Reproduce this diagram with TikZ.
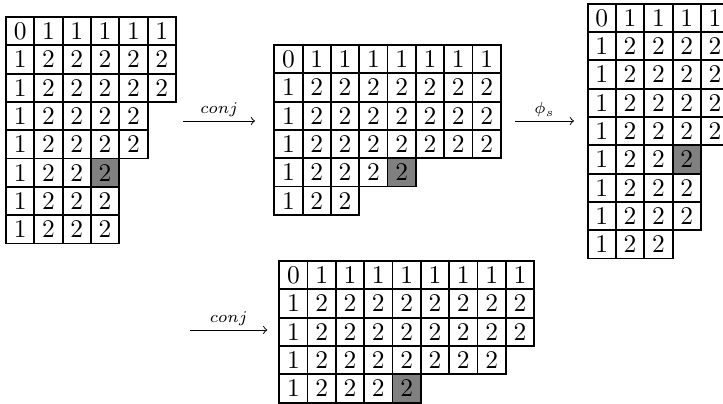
\documentclass[tikz,border=0pt]{standalone}
\usepackage{tikz}
\usetikzlibrary{calc}
\def\cellsz{0.428}
\tikzset{
  cell/.style={draw, line width=0.8pt, anchor=north west, inner sep=0pt,
    minimum width=\cellsz cm, minimum height=\cellsz cm,
    font=\fontsize{10.95}{12}\selectfont},
  graycell/.style={fill=black!50},
  whitecell/.style={},
  maparrow/.style={-to, line width=0.4pt},
  maplabel/.style={above, inner sep=1.5pt, font=\scriptsize}
}
% one row of a tableau: [name](left,top){entries}{index of gray cell}
\def\cellrow[#1](#2,#3)#4#5{%
  \foreach \v [count=\i from 0] in {#4} {%
    \ifnum\i=#5 \def\cellstyle{graycell}\else\def\cellstyle{whitecell}\fi
    \node[cell,\cellstyle] (#1-\i) at ({#2+\i*\cellsz},#3) {\v};
  }%
}

\begin{document}
\begin{tikzpicture}
			%%%%% START %%%%%
			\useasboundingbox (0,0) rectangle (10.925,6.09);
			
			% first tableau
			\cellrow[a0](0.076,5.848){0,1,1,1,1,1}{-1}
			\cellrow[a1](0.076,5.420){1,2,2,2,2,2}{-1}
			\cellrow[a2](0.076,4.992){1,2,2,2,2,2}{-1}
			\cellrow[a3](0.076,4.564){1,2,2,2,2}{-1}
			\cellrow[a4](0.076,4.136){1,2,2,2,2}{-1}
			\cellrow[a5](0.076,3.708){1,2,2,2}{3}
			\cellrow[a6](0.076,3.280){1,2,2,2}{-1}
			\cellrow[a7](0.076,2.852){1,2,2,2}{-1}
			
			\coordinate (c1s) at (2.770,4.262);
			\coordinate (c1e) at (3.853,4.262);
			\draw[maparrow] (c1s) -- node[maplabel] {$conj$} (c1e);
			
			% second tableau
			\cellrow[b0](4.130,5.425){0,1,1,1,1,1,1,1}{-1}
			\cellrow[b1](4.130,4.997){1,2,2,2,2,2,2,2}{-1}
			\cellrow[b2](4.130,4.569){1,2,2,2,2,2,2,2}{-1}
			\cellrow[b3](4.130,4.141){1,2,2,2,2,2,2,2}{-1}
			\cellrow[b4](4.130,3.713){1,2,2,2,2}{4}
			\cellrow[b5](4.130,3.285){1,2,2}{-1}
			
			\coordinate (c2s) at (7.782,4.262);
			\coordinate (c2e) at (8.673,4.262);
			\draw[maparrow] (c2s) -- node[maplabel] {$\phi_s$} (c2e);
			
			% third tableau
			\cellrow[d0](8.865,6.049){0,1,1,1,1}{-1}
			\cellrow[d1](8.865,5.621){1,2,2,2,2}{-1}
			\cellrow[d2](8.865,5.193){1,2,2,2,2}{-1}
			\cellrow[d3](8.865,4.765){1,2,2,2,2}{-1}
			\cellrow[d4](8.865,4.337){1,2,2,2,2}{-1}
			\cellrow[d5](8.865,3.909){1,2,2,2}{3}
			\cellrow[d6](8.865,3.481){1,2,2,2}{-1}
			\cellrow[d7](8.865,3.053){1,2,2,2}{-1}
			\cellrow[d8](8.865,2.625){1,2,2}{-1}
			
			\coordinate (c3s) at (2.871,1.104);
			\coordinate (c3e) at (4.039,1.104);
			\draw[maparrow] (c3s) -- node[maplabel] {$conj$} (c3e);
			
			% fourth tableau
			\cellrow[e0](4.205,2.161){0,1,1,1,1,1,1,1,1}{-1}
			\cellrow[e1](4.205,1.733){1,2,2,2,2,2,2,2,2}{-1}
			\cellrow[e2](4.205,1.305){1,2,2,2,2,2,2,2,2}{-1}
			\cellrow[e3](4.205,0.877){1,2,2,2,2,2,2,2}{-1}
			\cellrow[e4](4.205,0.449){1,2,2,2,2}{4}
			
			%%%%% END %%%%%
		\end{tikzpicture}
\end{document}
